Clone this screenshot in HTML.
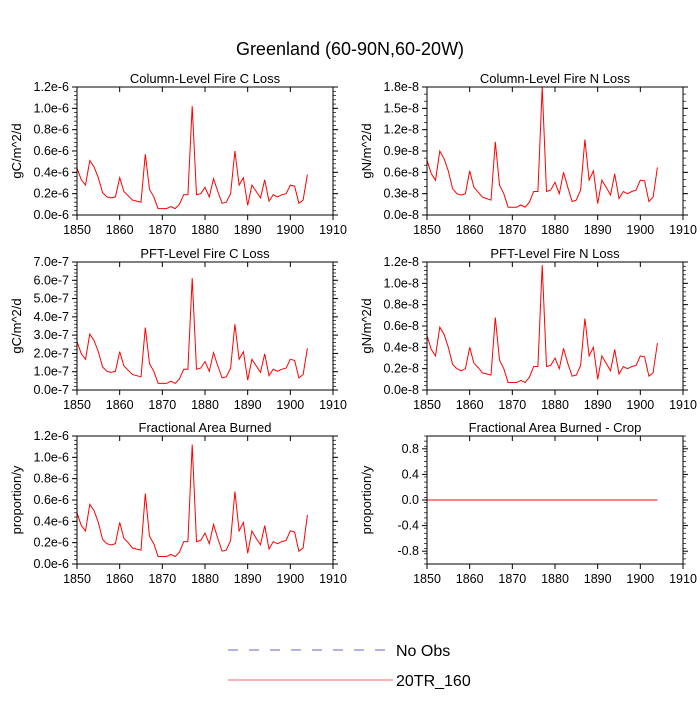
<!DOCTYPE html>
<html><head><meta charset="utf-8"><style>
body{margin:0;background:#fff;}
svg{font-family:"Liberation Sans",sans-serif;}
</style></head><body>
<svg id="chart" width="700" height="700" xmlns="http://www.w3.org/2000/svg">
<text x="350" y="55" text-anchor="middle" font-size="18">Greenland (60-90N,60-20W)</text>
<g id="panels"></g>
<g>
<line x1="228" y1="650" x2="385" y2="650" stroke="#6666cc" stroke-width="1" stroke-dasharray="10,11"/>
<text x="396" y="656" font-size="16">No Obs</text>
<line x1="228" y1="680" x2="393" y2="680" stroke="#ff6666" stroke-width="1"/>
<text x="396" y="686" font-size="16">20TR_160</text>
</g>
</svg>
<script>
const years = [];
for (let y = 1850; y <= 1904; y++) years.push(y);
const xTicks = [1850,1860,1870,1880,1890,1900,1910];
const colCLoss = [0.44,0.33,0.28,0.51,0.45,0.35,0.21,0.17,0.16,0.17,0.35,0.22,0.18,0.14,0.13,0.12,0.57,0.24,0.17,0.06,0.06,0.06,0.08,0.06,0.10,0.19,0.19,1.02,0.19,0.20,0.26,0.17,0.34,0.22,0.11,0.12,0.20,0.60,0.28,0.35,0.09,0.28,0.22,0.16,0.33,0.13,0.19,0.17,0.19,0.20,0.28,0.27,0.11,0.14,0.38];
const colNLoss = [0.77,0.58,0.49,0.90,0.79,0.62,0.37,0.30,0.28,0.30,0.62,0.39,0.32,0.25,0.23,0.21,1.03,0.42,0.30,0.11,0.11,0.11,0.14,0.11,0.18,0.33,0.33,1.80,0.33,0.35,0.46,0.30,0.60,0.39,0.19,0.21,0.35,1.06,0.49,0.62,0.16,0.49,0.39,0.28,0.58,0.23,0.33,0.30,0.33,0.35,0.49,0.48,0.19,0.25,0.67];
const pftCLoss = [2.64,1.98,1.68,3.06,2.70,2.10,1.26,1.02,0.96,1.02,2.10,1.32,1.08,0.84,0.78,0.72,3.42,1.44,1.02,0.36,0.36,0.36,0.48,0.36,0.60,1.14,1.14,6.12,1.14,1.20,1.56,1.02,2.04,1.32,0.66,0.72,1.20,3.60,1.68,2.10,0.54,1.68,1.32,0.96,1.98,0.78,1.14,1.02,1.14,1.20,1.68,1.62,0.66,0.84,2.28];
const pftNLoss = [0.51,0.38,0.32,0.59,0.52,0.40,0.24,0.20,0.18,0.20,0.40,0.25,0.21,0.16,0.15,0.14,0.68,0.28,0.20,0.07,0.07,0.07,0.09,0.07,0.12,0.22,0.22,1.17,0.22,0.23,0.30,0.20,0.39,0.25,0.13,0.14,0.23,0.67,0.32,0.40,0.10,0.32,0.25,0.18,0.38,0.15,0.22,0.20,0.22,0.23,0.32,0.31,0.13,0.16,0.44];
const areaBurned = [0.48,0.36,0.31,0.56,0.50,0.39,0.23,0.19,0.18,0.19,0.39,0.24,0.20,0.15,0.14,0.13,0.66,0.26,0.19,0.07,0.07,0.07,0.09,0.07,0.11,0.21,0.21,1.12,0.21,0.22,0.29,0.19,0.37,0.24,0.12,0.13,0.22,0.68,0.31,0.39,0.10,0.31,0.24,0.18,0.36,0.14,0.21,0.19,0.21,0.22,0.31,0.30,0.12,0.15,0.46];
const areaBurnedCrop = years.map(()=>0);
const ticksCLoss = ["0.0e-6","0.2e-6","0.4e-6","0.6e-6","0.8e-6","1.0e-6","1.2e-6"];
const ticksNLoss = ["0.0e-8","0.3e-8","0.6e-8","0.9e-8","1.2e-8","1.5e-8","1.8e-8"];
const ticksPftC = ["0.0e-7","1.0e-7","2.0e-7","3.0e-7","4.0e-7","5.0e-7","6.0e-7","7.0e-7"];
const ticksPftN = ["0.0e-8","0.2e-8","0.4e-8","0.6e-8","0.8e-8","1.0e-8","1.2e-8"];
const ticksArea = ["0.0e-6","0.2e-6","0.4e-6","0.6e-6","0.8e-6","1.0e-6","1.2e-6"];
const ticksCrop = ["-0.8","-0.4","0.0","0.4","0.8"];

const NS='http://www.w3.org/2000/svg';
const root=document.getElementById('panels');
function mk(tag,attrs,parent){const e=document.createElementNS(NS,tag);for(const k in attrs)e.setAttribute(k,attrs[k]);parent.appendChild(e);return e;}

const panels=[
 {name:'column-c-loss',title:'Column-Level Fire C Loss',ylab:'gC/m^2/d',x0:77,y0:87,data:colCLoss,ymin:0,ymax:1.2,tv:[0,0.2,0.4,0.6,0.8,1.0,1.2],tl:ticksCLoss,minor:4},
 {name:'column-n-loss',title:'Column-Level Fire N Loss',ylab:'gN/m^2/d',x0:427,y0:87,data:colNLoss,ymin:0,ymax:1.8,tv:[0,0.3,0.6,0.9,1.2,1.5,1.8],tl:ticksNLoss,minor:2},
 {name:'pft-c-loss',title:'PFT-Level Fire C Loss',ylab:'gC/m^2/d',x0:77,y0:262,data:pftCLoss,ymin:0,ymax:7,tv:[0,1,2,3,4,5,6,7],tl:ticksPftC,minor:4},
 {name:'pft-n-loss',title:'PFT-Level Fire N Loss',ylab:'gN/m^2/d',x0:427,y0:262,data:pftNLoss,ymin:0,ymax:1.2,tv:[0,0.2,0.4,0.6,0.8,1.0,1.2],tl:ticksPftN,minor:4},
 {name:'area-burned',title:'Fractional Area Burned',ylab:'proportion/y',x0:77,y0:436,data:areaBurned,ymin:0,ymax:1.2,tv:[0,0.2,0.4,0.6,0.8,1.0,1.2],tl:ticksArea,minor:4},
 {name:'area-burned-crop',title:'Fractional Area Burned - Crop',ylab:'proportion/y',x0:427,y0:436,data:areaBurnedCrop,ymin:-1,ymax:1,tv:[-0.8,-0.4,0,0.4,0.8],tl:ticksCrop,minor:4},
];
const W=256,H=128;
panels.forEach(p=>{
  const g=mk('g',{},root);
  
  
  const sx=v=>p.x0+(v-1850)/60*W;
  const sy=v=>p.y0+H-(v-p.ymin)/(p.ymax-p.ymin)*H;
  const t=mk('text',{x:p.x0+W/2,y:p.y0-4,'text-anchor':'middle','font-size':13},g);
  t.textContent=p.title;
  
  
  const yl=mk('text',{x:0,y:0,'text-anchor':'middle','font-size':13,transform:`translate(${p.x0-56},${p.y0+H/2}) rotate(-90)`},g);
  yl.textContent=p.ylab;
  
  
  xTicks.forEach(v=>{
    const x=sx(v);
    mk('line',{x1:x,x2:x,y1:p.y0+H,y2:p.y0+H+5,stroke:'#000'},g);
    mk('line',{x1:x,x2:x,y1:p.y0,y2:p.y0+5,stroke:'#000'},g);
    const l=mk('text',{x:x,y:p.y0+H+19,'text-anchor':'middle','font-size':12.5},g);
    l.textContent=v;
    
    
  });
  const step=p.tv[1]-p.tv[0];
  p.tv.forEach((v,i)=>{
    const y=sy(v);
    mk('line',{x1:p.x0-5,x2:p.x0,y1:y,y2:y,stroke:'#000'},g);
    mk('line',{x1:p.x0+W,x2:p.x0+W+5,y1:y,y2:y,stroke:'#000'},g);
    const l=mk('text',{x:p.x0-8,y:y+4,'text-anchor':'end','font-size':12.5},g);
    l.textContent=p.tl[i];
    
    
  });
  for(let v=p.ymin;v<=p.ymax+1e-9;v+=step/(p.minor+1)){
    const y=sy(v);
    mk('line',{x1:p.x0-3,x2:p.x0,y1:y,y2:y,stroke:'#000','stroke-width':0.7},g);
    mk('line',{x1:p.x0+W,x2:p.x0+W+3,y1:y,y2:y,stroke:'#000','stroke-width':0.7},g);
  }
  const pts=p.data.map((v,i)=>sx(years[i]).toFixed(1)+','+sy(v).toFixed(1)).join(' ');
  const pl=mk('polyline',{points:pts,fill:'none',stroke:'#ff0000','stroke-width':1},g);
  
  
  const fr=mk('rect',{x:p.x0,y:p.y0,width:W,height:H,fill:'none',stroke:'#000','stroke-width':1},g);
  
  
});
</script>
</body></html>
